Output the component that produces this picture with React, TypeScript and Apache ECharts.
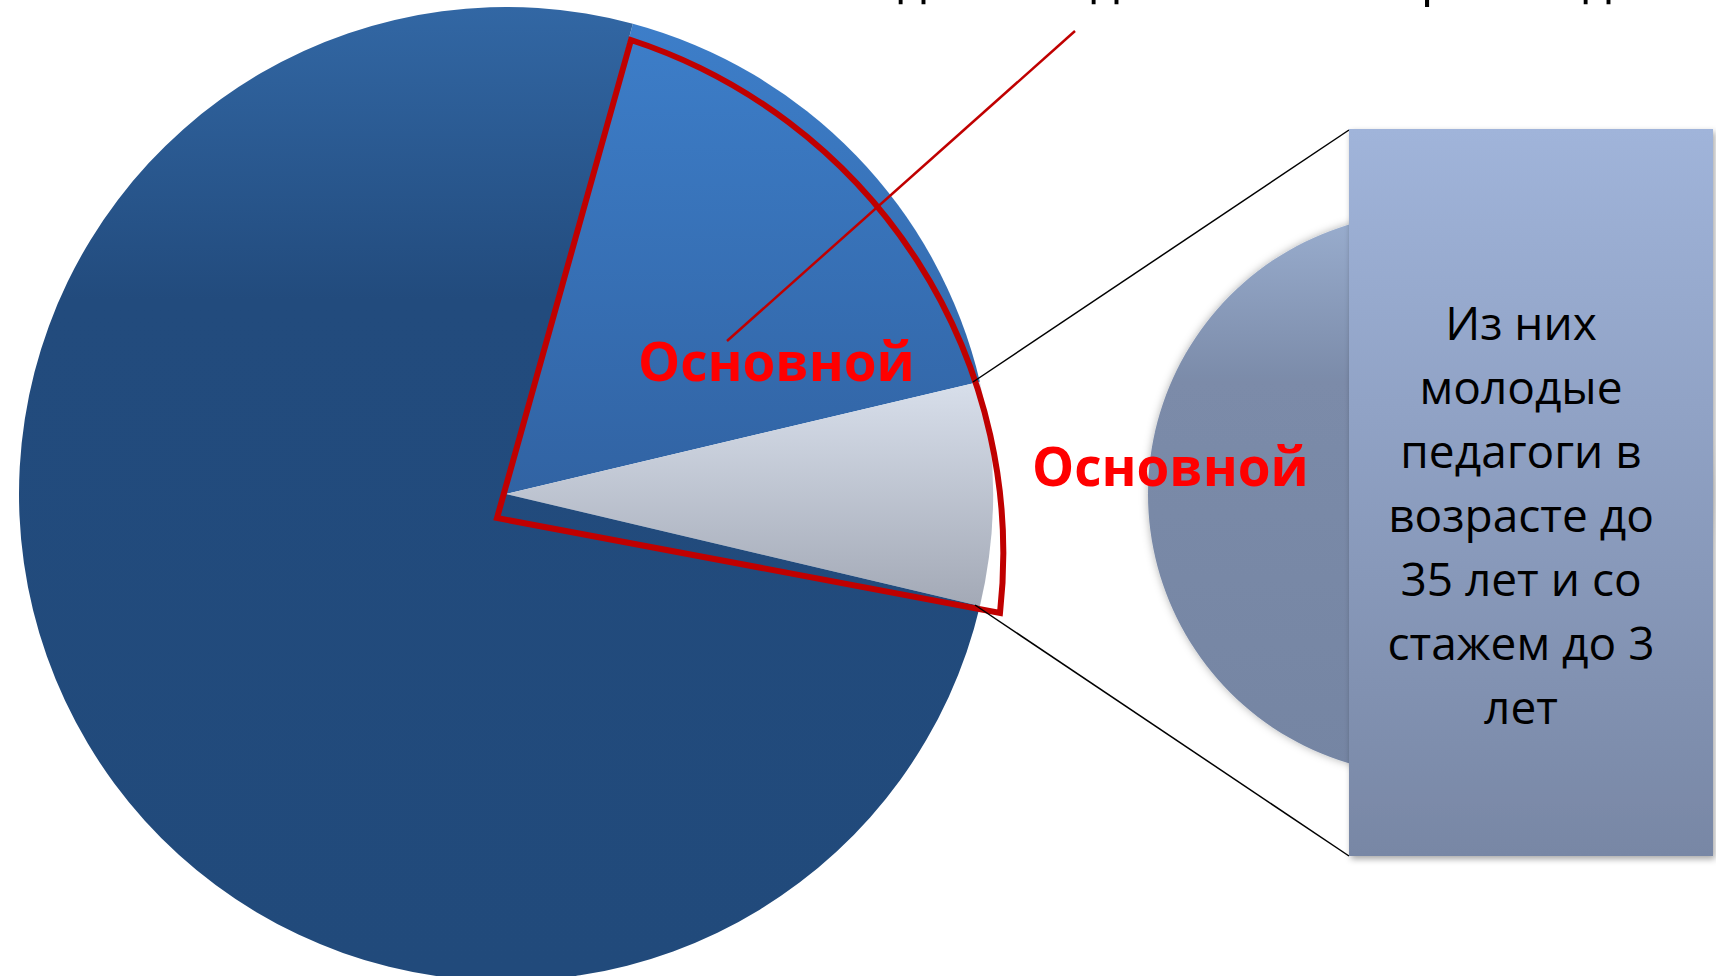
import React, { useEffect, useRef } from "react";
import * as echarts from "echarts";

// ---- data ----
const mainCategories = ["A", "B", "C"];
const mainValues = [17.1, 7.4, 75.5];
const secondaryCategories = ["B"];
const secondaryValues = [7.4];
const redLabel = "Основной";
const boxLines = ["Из них", "молодые", "педагоги в", "возрасте до", "35 лет и со", "стажем до 3", "лет"];
const topLetters = ["д", "д", "р", "д"];
const topLetterX = [912, 1105, 1436, 1597];

const lg = (stops: [number, string][]) => ({
  type: "linear",
  x: 0,
  y: 0,
  x2: 0,
  y2: 1,
  colorStops: stops.map(([offset, color]) => ({ offset, color })),
});

const mainColors = [
  lg([[0, "#3D7EC9"], [1, "#3163A3"]]),
  lg([[0, "#D8DFEB"], [1, "#A3A9B6"]]),
  lg([[0, "#3267A4"], [0.3, "#224B7D"], [1, "#214A7B"]]),
];

export default function App() {
  const ref = useRef<HTMLDivElement>(null);
  useEffect(() => {
    document.body.style.margin = "0";
    if (!ref.current) return;
    const chart = echarts.init(ref.current, undefined, { renderer: "svg" });
    echarts.graphic.registerShape(
      "redSector",
      echarts.graphic.extendPath("M 497 518 L 631 40 A 540 540 0 0 1 1000 613 Z", {})
    );
    const font = "'Open Sans', 'Noto Sans', sans-serif";
    const option: any = {
      animation: false,
      backgroundColor: "#ffffff",
      series: [
        {
          type: "pie",
          center: [506, 494],
          radius: 487,
          startAngle: 74.9,
          clockwise: true,
          silent: true,
          label: { show: false },
          labelLine: { show: false },
          emphasis: { disabled: true },
          data: mainValues.map((v, i) => ({
            name: mainCategories[i],
            value: v,
            itemStyle: { color: mainColors[i], borderWidth: 0 },
          })),
        },
        {
          type: "pie",
          center: [1429, 494],
          radius: 281,
          silent: true,
          label: { show: false },
          labelLine: { show: false },
          emphasis: { disabled: true },
          data: secondaryValues.map((v, i) => ({
            name: secondaryCategories[i],
            value: v,
            itemStyle: {
              color: lg([[0, "#9AAECF"], [0.3, "#7B8BA9"], [1, "#7585A3"]]),
              shadowBlur: 8,
              shadowColor: "rgba(0,0,0,0.3)",
            },
          })),
        },
      ],
      graphic: [
        {
          type: "redSector",
          x: 0,
          y: 0,
          scaleX: 1,
          scaleY: 1,
          z: 10,
          silent: true,
          style: { fill: "none", stroke: "#C00000", lineWidth: 6, lineJoin: "miter" },
        },
        {
          type: "line",
          z: 10,
          silent: true,
          shape: { x1: 727, y1: 341, x2: 1075, y2: 31 },
          style: { stroke: "#C00000", lineWidth: 2.5 },
        },
        {
          type: "line",
          z: 10,
          silent: true,
          shape: { x1: 973, y1: 382, x2: 1349, y2: 130 },
          style: { stroke: "#000000", lineWidth: 1.5 },
        },
        {
          type: "line",
          z: 10,
          silent: true,
          shape: { x1: 975, y1: 605, x2: 1349, y2: 856 },
          style: { stroke: "#000000", lineWidth: 1.5 },
        },
        {
          type: "rect",
          z: 10,
          silent: true,
          shape: { x: 1349, y: 129, width: 364, height: 727 },
          style: {
            fill: new echarts.graphic.LinearGradient(0, 0, 0, 1, [
              { offset: 0, color: "#A0B4DA" },
              { offset: 1, color: "#7887A5" },
            ]),
            shadowBlur: 6,
            shadowOffsetX: 2,
            shadowOffsetY: 3,
            shadowColor: "rgba(0,0,0,0.35)",
          },
        },
        {
          type: "text",
          z: 12,
          silent: true,
          x: 1521,
          y: 290,
          style: {
            text: boxLines.join("\n"),
            fill: "#000000",
            font: `46px ${font}`,
            lineHeight: 64,
            align: "center",
            verticalAlign: "top",
            textAlign: "center",
            textVerticalAlign: "top",
          },
        },
        {
          type: "text",
          z: 12,
          silent: true,
          x: 638,
          y: 360,
          style: {
            text: redLabel,
            fill: "#FF0000",
            font: `bold 53px ${font}`,
            align: "left",
            verticalAlign: "middle",
            textAlign: "left",
            textVerticalAlign: "middle",
          },
        },
        {
          type: "text",
          z: 12,
          silent: true,
          x: 1032,
          y: 465,
          style: {
            text: redLabel,
            fill: "#FF0000",
            font: `bold 53px ${font}`,
            align: "left",
            verticalAlign: "middle",
            textAlign: "left",
            textVerticalAlign: "middle",
          },
        },
        ...topLetters.map((t, i) => ({
          type: "text",
          z: 12,
          silent: true,
          x: topLetterX[i],
          y: -24,
          style: {
            text: t,
            fill: "#000000",
            font: `50px ${font}`,
            align: "center",
            verticalAlign: "middle",
            textAlign: "center",
            textVerticalAlign: "middle",
          },
        })),
      ],
    };
    chart.setOption(option);
    return () => chart.dispose();
  }, []);
  return (
    <div
      ref={ref}
      style={{ position: "absolute", left: 0, top: 0, width: 1716, height: 976, overflow: "hidden" }}
    />
  );
}
